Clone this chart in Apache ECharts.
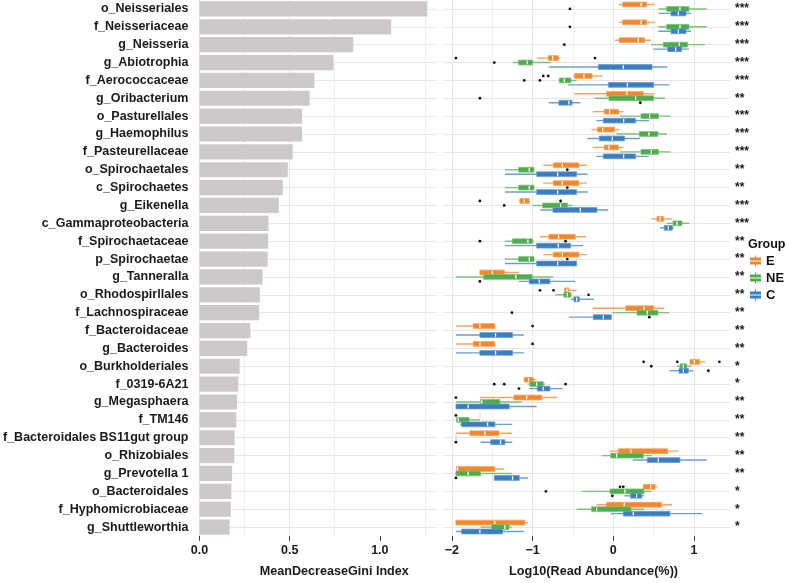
<!DOCTYPE html>
<html><head><meta charset="utf-8">
<script src="https://cdn.jsdelivr.net/npm/echarts@6/dist/echarts.min.js"></script>
<style>html,body{margin:0;padding:0;background:#fff}#c{width:787px;height:583px}</style>
</head><body><div id="c"></div>
<script>
const categories = ['o_Neisseriales','f_Neisseriaceae','g_Neisseria','g_Abiotrophia','f_Aerococcaceae','g_Oribacterium','o_Pasturellales','g_Haemophilus','f_Pasteurellaceae','o_Spirochaetales','c_Spirochaetes','g_Eikenella','c_Gammaproteobacteria','f_Spirochaetaceae','p_Spirochaetae','g_Tanneralla','o_Rhodospirllales','f_Lachnospiraceae','f_Bacteroidaceae','g_Bacteroides','o_Burkholderiales','f_0319-6A21','g_Megasphaera','f_TM146','f_Bacteroidales BS11gut group','o_Rhizobiales','g_Prevotella 1','o_Bacteroidales','f_Hyphomicrobiaceae','g_Shuttleworthia'];
const giniValues = [1.263,1.063,0.853,0.743,0.637,0.611,0.569,0.569,0.517,0.490,0.462,0.440,0.383,0.381,0.378,0.350,0.335,0.331,0.282,0.265,0.223,0.215,0.208,0.204,0.195,0.193,0.181,0.177,0.174,0.167];
const significance = ['***','***','***','***','***','**','***','***','***','**','**','***','***','**','**','**','**','**','**','**','*','*','**','**','**','**','**','*','*','*'];
const groups = ['E','NE','C'];
// [min, q1, median, q3, max] per category
const boxE = [
 [0.07,0.116,0.343,0.413,0.517],[0.07,0.116,0.343,0.413,0.517],[0.021,0.074,0.31,0.388,0.467],
 [-0.942,-0.806,-0.752,-0.682,-0.653],[-0.496,-0.479,-0.364,-0.264,-0.132],[-0.483,-0.083,0.169,0.372,0.508],
 [-0.256,-0.112,-0.045,0.066,0.128],[-0.273,-0.198,-0.132,0.017,0.079],[-0.256,-0.112,-0.054,0.066,0.128],
 [-0.868,-0.744,-0.632,-0.426,-0.326],[-0.868,-0.744,-0.632,-0.426,-0.326],[-1.165,-1.157,-1.103,-1.041,-1.041],
 [0.471,0.541,0.579,0.624,0.727],[-0.909,-0.798,-0.678,-0.471,-0.339],[-0.868,-0.744,-0.632,-0.426,-0.326],
 [-1.653,-1.653,-1.5,-1.351,-1.169],[-0.607,-0.603,-0.574,-0.55,-0.455],[-0.256,0.153,0.38,0.5,0.632],
 [-1.95,-1.736,-1.653,-1.467,-1.467],[-1.95,-1.736,-1.653,-1.467,-1.467],[0.95,0.95,1.004,1.066,1.14],
 [-1.116,-1.103,-1.05,-0.992,-0.95],[-1.653,-1.231,-1.074,-0.884,-0.694],[-1.653,-1.653,-1.653,-1.653,-1.653],
 [-1.95,-1.777,-1.591,-1.417,-1.252],[-0.05,0.062,0.219,0.674,0.81],[-1.95,-1.942,-1.93,-1.467,-1.351],
 [0.372,0.372,0.463,0.517,0.545],[-0.207,-0.083,0.136,0.599,0.727],[-1.95,-1.95,-1.467,-1.095,-1.054]
];
const boxNE = [
 [0.558,0.661,0.826,0.938,1.157],[0.558,0.661,0.826,0.938,1.157],[0.467,0.62,0.818,0.921,1.136],
 [-1.248,-1.174,-1.066,-1.0,-0.777],[-0.674,-0.669,-0.607,-0.525,-0.455],[-0.231,-0.054,0.277,0.5,0.64],
 [0.083,0.343,0.45,0.562,0.707],[0.041,0.322,0.442,0.554,0.665],[0.083,0.343,0.471,0.562,0.707],
 [-1.343,-1.174,-1.041,-0.983,-0.983],[-1.343,-1.174,-1.041,-0.983,-0.983],[-0.996,-0.876,-0.653,-0.566,-0.504],
 [0.661,0.74,0.789,0.851,0.942],[-1.343,-1.252,-1.058,-1.0,-0.983],[-1.343,-1.174,-1.041,-0.983,-0.983],
 [-1.95,-1.607,-1.207,-1.004,-0.744],[-0.719,-0.612,-0.57,-0.525,-0.512],[-0.012,0.293,0.421,0.554,0.69],
 null,null,[0.785,0.826,0.868,0.909,0.971],
 [-1.054,-1.033,-0.95,-0.868,-0.847],[-1.95,-1.645,-1.63,-1.405,-1.136],[-1.95,-1.942,-1.92,-1.785,-1.653],
 [-1.95,-1.95,-1.95,-1.95,-1.95],[-0.14,-0.033,0.041,0.372,0.479],[-1.95,-1.95,-1.798,-1.645,-1.252],
 [-0.388,-0.041,0.145,0.38,0.479],[-0.455,-0.269,-0.207,0.219,0.38],[-1.645,-1.508,-1.343,-1.293,-1.26]
];
const boxC = [
 [0.558,0.715,0.806,0.901,0.963],[0.558,0.715,0.806,0.901,0.963],[0.496,0.674,0.773,0.847,0.938],
 [-0.798,-0.186,0.124,0.479,0.669],[-0.562,-0.062,0.174,0.5,0.694],[-0.798,-0.674,-0.55,-0.512,-0.409],
 [-0.211,-0.124,0.128,0.277,0.442],[-0.322,-0.174,-0.012,0.14,0.331],[-0.211,-0.124,0.128,0.277,0.442],
 [-1.343,-0.95,-0.69,-0.455,-0.318],[-1.343,-0.95,-0.69,-0.455,-0.318],[-0.905,-0.748,-0.409,-0.202,-0.062],
 [0.579,0.632,0.682,0.731,0.748],[-1.343,-0.95,-0.682,-0.529,-0.372],[-1.343,-0.95,-0.69,-0.455,-0.455],
 [-1.169,-1.041,-0.917,-0.785,-0.471],[-0.525,-0.488,-0.455,-0.421,-0.24],[-0.55,-0.248,-0.124,-0.025,-0.025],
 [-1.95,-1.653,-1.459,-1.248,-1.107],[-1.95,-1.653,-1.459,-1.248,-1.107],[0.698,0.814,0.868,0.93,0.992],
 [-1.041,-0.942,-0.868,-0.785,-0.628],[-1.95,-1.95,-1.798,-1.289,-0.95],[-1.9,-1.88,-1.558,-1.467,-1.252],
 [-1.645,-1.521,-1.397,-1.343,-1.252],[0.24,0.421,0.558,0.826,1.157],[-1.479,-1.475,-1.248,-1.165,-1.054],
 [0.136,0.215,0.289,0.351,0.38],[-0.033,0.124,0.248,0.702,1.103],[-1.95,-1.88,-1.653,-1.372,-1.107]
];
// outliers: [categoryIndex, value]
const outE = [[3,-1.95],[3,-0.227],[4,-0.868],[4,-0.806],[11,-1.653],[11,-0.653],[16,-0.909],[16,-0.74],[18,-1.0],[19,-1.0],[20,0.376],[20,0.793],[20,1.314],[22,-1.95],[23,-1.95],[27,0.083],[27,0.124]];
const outNE = [[0,-0.537],[1,-0.537],[2,-0.607],[3,-1.475],[4,-1.103],[4,-0.909],[5,-1.653],[9,-0.57],[10,-0.57],[11,-1.351],[13,-1.653],[13,-0.591],[14,-0.57],[16,-0.306],[17,-1.256],[20,0.471],[21,-1.475],[21,-1.351],[21,-0.591],[27,-0.835]];
const outC = [[5,0.335],[15,-1.653],[17,0.446],[20,1.178],[21,-1.169],[24,-1.95],[26,-1.95],[27,-0.012]];
const giniTicks = [0, 0.5, 1];
const abundTicks = [-2, -1, 0, 1];
const abundGrid = [-2, -1.5, -1, -0.5, 0, 0.5, 1];

const colors = ['#F5862A', '#4DAD4A', '#3A7DC0'];
const whiskerColors = ['#F8A464', '#7CC279', '#6C9ED2'];
const FONT = 'Liberation Sans, Arial, Helvetica, sans-serif';
const boxes = [boxE, boxNE, boxC];
const outs = [outE, outNE, outC];

function boxRender(g) {
  return function (params, api) {
    const cat = api.value(0);
    const band = api.size([0, 1])[1];
    const off = (g - 1) * band * 0.25;
    const h = band * 0.27;
    const p = [1, 2, 3, 4, 5].map(d => api.coord([api.value(d), cat]));
    const y = p[0][1] + off;
    return {
      type: 'group',
      children: [
        { type: 'line', shape: { x1: p[0][0], y1: y, x2: p[4][0], y2: y }, style: { stroke: whiskerColors[g], lineWidth: 1.4 } },
        { type: 'rect', shape: { x: p[1][0], y: y - h / 2, width: p[3][0] - p[1][0], height: h }, style: { fill: colors[g], stroke: whiskerColors[g], lineWidth: 0.8 } },
        { type: 'line', shape: { x1: p[2][0], y1: y - h / 2 + 0.6, x2: p[2][0], y2: y + h / 2 - 0.6 }, style: { stroke: '#ffffff', lineWidth: 1.3 } }
      ]
    };
  };
}
function outRender(params, api) {
  const cat = api.value(0);
  const g = api.value(2);
  const band = api.size([0, 1])[1];
  const p = api.coord([api.value(1), cat]);
  return { type: 'circle', shape: { cx: p[0], cy: p[1] + (g - 1) * band * 0.25, r: 1.4 }, style: { fill: '#111' } };
}

const gridLineStyle = { color: '#E6E6E6', width: 1, type: 'solid' };
const minorLineStyle = { color: '#EFEFEF', width: 1, type: 'solid' };

const series = [{
  type: 'bar', xAxisIndex: 0, yAxisIndex: 0, data: giniValues, barCategoryGap: '15%',
  itemStyle: { color: '#CDC9C9' }, silent: true, z: 2,
  markLine: {
    silent: true, symbol: ['none', 'none'], label: { show: false }, z: 1, animation: false,
    lineStyle: gridLineStyle,
    data: categories.map((c, i) => ({ yAxis: i }))
  }
}];
groups.forEach((name, g) => {
  const s = {
    type: 'custom', name: name, xAxisIndex: 1, yAxisIndex: 1,
    itemStyle: { color: colors[g] }, z: 3, silent: true,
    encode: { x: [1, 2, 3, 4, 5], y: 0 },
    renderItem: boxRender(g),
    data: boxes[g].map((b, i) => b ? [i].concat(b) : null).filter(d => d)
  };
  if (g === 0) {
    s.markLine = {
      silent: true, symbol: ['none', 'none'], label: { show: false }, z: 1, animation: false,
      data: categories.map((c, i) => ({ yAxis: i, lineStyle: gridLineStyle }))
        .concat(abundGrid.map(v => ({ xAxis: v, lineStyle: Number.isInteger(v) ? gridLineStyle : minorLineStyle })))
    };
  }
  series.push(s);
});
series.push({
  type: 'custom', name: 'outliers', xAxisIndex: 1, yAxisIndex: 1, z: 4, silent: true,
  encode: { x: 1, y: 0 }, renderItem: outRender,
  data: outs.flatMap((arr, g) => arr.map(o => [o[0], o[1], g]))
});

const legendIcon = 'path://M5,0H6V2H5Z M0,2H11V5.1H0Z M0,5.9H11V9H0Z M5,9H6V11H5Z';

const option = {
  animation: false,
  color: colors,
  textStyle: { fontFamily: FONT },
  title: { text: 'Group', left: 743, top: 233, textStyle: { fontFamily: FONT, fontWeight: 'bold', fontSize: 12.5, color: '#111' } },
  legend: {
    data: groups, orient: 'vertical', left: 745, top: 249, itemWidth: 11, itemHeight: 11, itemGap: 3,
    icon: legendIcon, selectedMode: false,
    textStyle: { fontFamily: FONT, fontWeight: 'bold', fontSize: 13, lineHeight: 14, color: '#111' }
  },
  grid: [
    { left: 198, right: 350, top: 0, bottom: 44 },
    { left: 443, right: 57, top: 0, bottom: 44 }
  ],
  xAxis: [{
    gridIndex: 0, type: 'value', min: 0, max: 1.317, interval: 0.5,
    axisLine: { show: false },
    axisTick: { show: true, customValues: giniTicks, length: 5, lineStyle: { color: '#444' } },
    axisLabel: { customValues: giniTicks, formatter: v => v.toFixed(1), margin: 8, fontFamily: FONT, fontWeight: 'bold', fontSize: 12.5, color: '#1a1a1a' },
    splitLine: { show: true, showMaxLine: false, lineStyle: gridLineStyle },
    minorTick: { show: false, splitNumber: 2 },
    minorSplitLine: { show: true, lineStyle: minorLineStyle },
    name: 'MeanDecreaseGini Index', nameLocation: 'middle', nameGap: 29,
    nameTextStyle: { fontFamily: FONT, fontWeight: 'bold', fontSize: 12.6, color: '#1a1a1a', padding: [0, 0, 0, 32] }
  }, {
    gridIndex: 1, type: 'value', min: -2.11, max: 1.446,
    axisLine: { show: false },
    axisTick: { show: true, customValues: abundTicks, length: 5, lineStyle: { color: '#444' } },
    axisLabel: { customValues: abundTicks, formatter: v => String(v).replace('-', '\u2212'), margin: 8, fontFamily: FONT, fontWeight: 'bold', fontSize: 12.5, color: '#1a1a1a' },
    splitLine: { show: false },
    name: 'Log10(Read Abundance(%))', nameLocation: 'middle', nameGap: 29,
    nameTextStyle: { fontFamily: FONT, fontWeight: 'bold', fontSize: 12.7, color: '#1a1a1a', padding: [0, 0, 0, 14] }
  }],
  yAxis: [{
    gridIndex: 0, type: 'category', data: categories, inverse: true,
    axisLine: { show: false }, axisTick: { show: false }, splitLine: { show: false },
    axisLabel: { margin: 11, fontFamily: FONT, fontWeight: 'bold', fontSize: 12.5, color: '#1a1a1a', interval: 0 }
  }, {
    gridIndex: 1, type: 'category', data: categories, inverse: true, position: 'right',
    axisLine: { show: false }, axisTick: { show: false }, splitLine: { show: false },
    axisLabel: { margin: 5, interval: 0, formatter: (v, i) => significance[i], fontFamily: FONT, fontWeight: 'bold', fontSize: 12, color: '#1a1a1a', padding: [6, 0, 0, 0] }
  }],
  series: series
};
const chart = echarts.init(document.getElementById('c'), null, { renderer: 'canvas' });
chart.setOption(option);
</script>
</body></html>
